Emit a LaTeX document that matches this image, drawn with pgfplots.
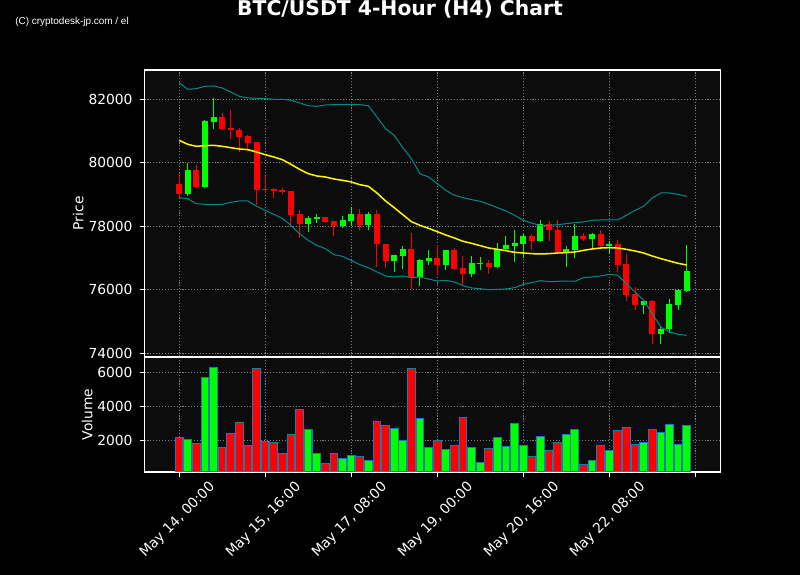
\documentclass[border=0pt]{standalone}
\usepackage{fontspec}
\setmainfont{DejaVu Sans}
\newfontfamily\wmfont{Liberation Sans}
\usepackage{pgfplots}
\usepackage{pgfplotstable}
\pgfplotsset{compat=1.18}

\definecolor{axbg}{HTML}{0C0C0C}
\definecolor{band}{HTML}{008B8B}
\definecolor{edge}{HTML}{1F77B4}
\definecolor{up}{HTML}{00FF00}
\definecolor{dn}{HTML}{FF0000}

% candles: index, open, high, low, close, volume
\pgfplotstableread{
i o h l c v
1 79007 79994 78965 79763 2057
3 79227 81338 79196 81306 5703
4 81285 82052 81075 81432 6291
15 78073 78325 77831 78251 2645
16 78230 78377 78104 78293 1234
19 77999 78335 77950 78188 940
20 78157 78608 78020 78398 1116
22 78041 78450 77873 78398 822
25 76896 77085 76571 77085 2704
26 77064 77379 76655 77295 2000
28 76403 76980 76130 76928 3292
29 76896 77243 76792 77012 1587
31 76770 77264 76634 77243 1469
34 76497 77064 76413 76834 1587
35 76823 77033 76634 76844 705
37 76718 77484 76697 77295 2175
38 77274 77694 77243 77400 1646
39 77379 77873 76876 77474 2998
40 77453 77768 77012 77684 1704
42 77537 78188 77506 78083 2234
45 77191 77379 76718 77274 2351
46 77243 78083 77012 77684 2645
48 77590 77789 77327 77768 822
50 77369 77537 77117 77432 1410
54 75510 75689 75227 75636 1881
56 74597 74849 74303 74776 2469
57 74755 75720 74650 75542 2939
58 75510 76036 75374 75983 1763
59 75962 77400 75930 76582 2880
}\greencandles

\pgfplotstableread{
i o h l c v
0 79322 79690 78923 79007 2175
2 79763 79931 79196 79227 1822
5 81432 81580 81044 81065 1587
6 81086 81674 80760 81034 2410
7 81044 81107 80330 80813 3057
8 80834 80866 80360 80624 1704
9 80645 80645 78660 79154 6232
10 79175 79574 79049 79154 1959
11 79175 79217 78902 79112 1881
12 79133 79217 79007 79080 1234
13 79101 79101 78030 78356 2351
14 78377 78524 77642 78073 3821
17 78283 78293 78104 78136 646
18 78157 78157 77705 78010 1234
21 78398 78556 77873 78041 1058
23 78398 78503 76718 77453 3116
24 77453 77453 76697 76907 2880
27 77295 77789 76036 76393 6232
30 77012 77421 76477 76770 2000
32 77243 77316 76634 76666 1704
33 76697 77054 76140 76497 3351
36 76844 76928 76508 76718 1528
41 77684 77768 77243 77537 1058
43 78083 78167 77526 77873 1410
44 77894 78209 77191 77191 1881
47 77684 77789 77537 77590 587
49 77768 77894 77348 77369 1704
51 77432 77579 76561 76771 2586
52 76802 77117 75647 75826 2763
53 75857 76088 75353 75510 1763
55 75636 75668 74303 74597 2645
}\redcandles

% moving average and bands
\pgfplotstableread{
i ma up lo
0 80708 82525 78902
1 80582 82315 78871
2 80519 82336 78713
3 80540 82409 78692
4 80550 82420 78682
5 80519 82357 78692
6 80477 82231 78755
7 80435 82094 78797
8 80414 82042 78797
9 80340 82031 78629
10 80256 82021 78503
11 80183 82000 78377
12 80099 82000 78251
13 79952 81968 78030
14 79795 81884 77768
15 79658 81800 77558
16 79585 81779 77400
17 79553 81821 77295
18 79490 81832 77107
19 79448 81832 77054
20 79396 81842 76928
21 79312 81832 76792
22 79259 81800 76697
23 79049 81443 76561
24 78797 81076 76435
25 78587 80866 76403
26 78367 80477 76435
27 78146 80130 76382
28 78030 79658 76403
29 77936 79553 76340
30 77831 79343 76277
31 77726 79133 76298
32 77632 78976 76246
33 77527 78902 76130
34 77464 78839 76057
35 77390 78787 76036
36 77316 78692 76004
37 77274 78587 76015
38 77232 78482 76025
39 77180 78346 76067
40 77159 78188 76172
41 77138 78104 76225
42 77128 78020 76288
43 77138 78030 76256
44 77159 78052 76267
45 77170 78083 76277
46 77191 78115 76267
47 77243 78136 76382
48 77285 78188 76403
49 77316 78199 76435
50 77327 78199 76487
51 77316 78199 76456
52 77274 78346 76193
53 77222 78503 75930
54 77159 78629 75668
55 77065 78892 75248
56 76981 79049 74828
57 76907 79049 74670
58 76834 79007 74597
59 76781 78944 74566
}\bands

\pgfplotsset{
  chart/.style={
    scale only axis, width=414.72bp,
    xmin=-4.03, xmax=62.94,
    axis background/.style={fill=axbg},
    axis line style={white, line width=0.8bp},
    tick style={white, line width=0.8bp},
    major tick length=3.5bp, tick align=outside,
    xtick={0,10,...,60}, xtick pos=bottom, ytick pos=left,
    grid=major,
    grid style={gray, line width=0.6bp, dash pattern=on 0.8bp off 1.3bp},
    ticklabel style={font=\fontsize{10}{12}\selectfont, text=white},
    yticklabel style={inner sep=0pt, anchor=east, xshift=-4.9bp},
    label style={font=\fontsize{10}{12}\selectfont, text=white},
    /pgf/number format/assume math mode=true,
    /pgf/number format/1000 sep={},
    scaled y ticks=false,
  },
}

\begin{document}
\begin{tikzpicture}
\fill[black] (0,0) rectangle (576bp,414bp);

\begin{axis}[chart, at={(104.04bp,157.32bp)}, anchor=south west,
  height=206.28bp, ymin=73899, ymax=82923,
  ytick={74000,76000,...,82000},
  xticklabels={}, major x tick style={draw=none},
  ylabel=Price]
% wicks (low to high) and bodies (open to close)
\addplot[quiver={u=0, v=\thisrow{h}-\thisrow{l}}, -, draw=up, line width=0.72bp] table[x=i, y=l] {\greencandles};
\addplot[quiver={u=0, v=\thisrow{c}-\thisrow{o}}, -, draw=up, line width=4.33bp] table[x=i, y=o] {\greencandles};
\addplot[quiver={u=0, v=\thisrow{h}-\thisrow{l}}, -, draw=dn, line width=0.72bp] table[x=i, y=l] {\redcandles};
\addplot[quiver={u=0, v=\thisrow{o}-\thisrow{c}}, -, draw=dn, line width=4.33bp] table[x=i, y=c] {\redcandles};
\addplot[band, line width=0.72bp] table[x=i, y=up] {\bands};
\addplot[band, line width=0.72bp] table[x=i, y=lo] {\bands};
\addplot[yellow, line width=1.1bp] table[x=i, y=ma] {\bands};
\end{axis}

\begin{axis}[chart, at={(104.04bp,74.16bp)}, anchor=south west,
  height=82.8bp, ymin=153, ymax=6882,
  ytick={2000,4000,6000},
  xticklabels={{May 14, 00:00},{May 15, 16:00},{May 17, 08:00},{May 19, 00:00},{May 20, 16:00},{May 22, 08:00},{}},
  xticklabel style={inner sep=0pt, xshift=20.9bp, yshift=-2.2bp, anchor=north east, rotate=45},
  ylabel=Volume]
\addplot[ybar, bar width=0.9, bar shift=0pt, fill=up, draw=edge, line width=0.8bp] table[x=i, y=v] {\greencandles};
\addplot[ybar, bar width=0.9, bar shift=0pt, fill=dn, draw=edge, line width=0.8bp] table[x=i, y=v] {\redcandles};
\end{axis}

\node[anchor=base, text=white, font=\bfseries\fontsize{14.7}{17}\selectfont] at (288bp,402.5bp) {BTC/USDT 4-Hour (H4) Chart};
\node[anchor=base west, inner sep=0pt, text=white, font=\wmfont\fontsize{7.2}{8}\selectfont] at (10.8bp,396.5bp) {(C) cryptodesk-jp.com / el};

\pgfresetboundingbox
\path (0,0) rectangle (576bp,414bp);
\end{tikzpicture}
\end{document}
